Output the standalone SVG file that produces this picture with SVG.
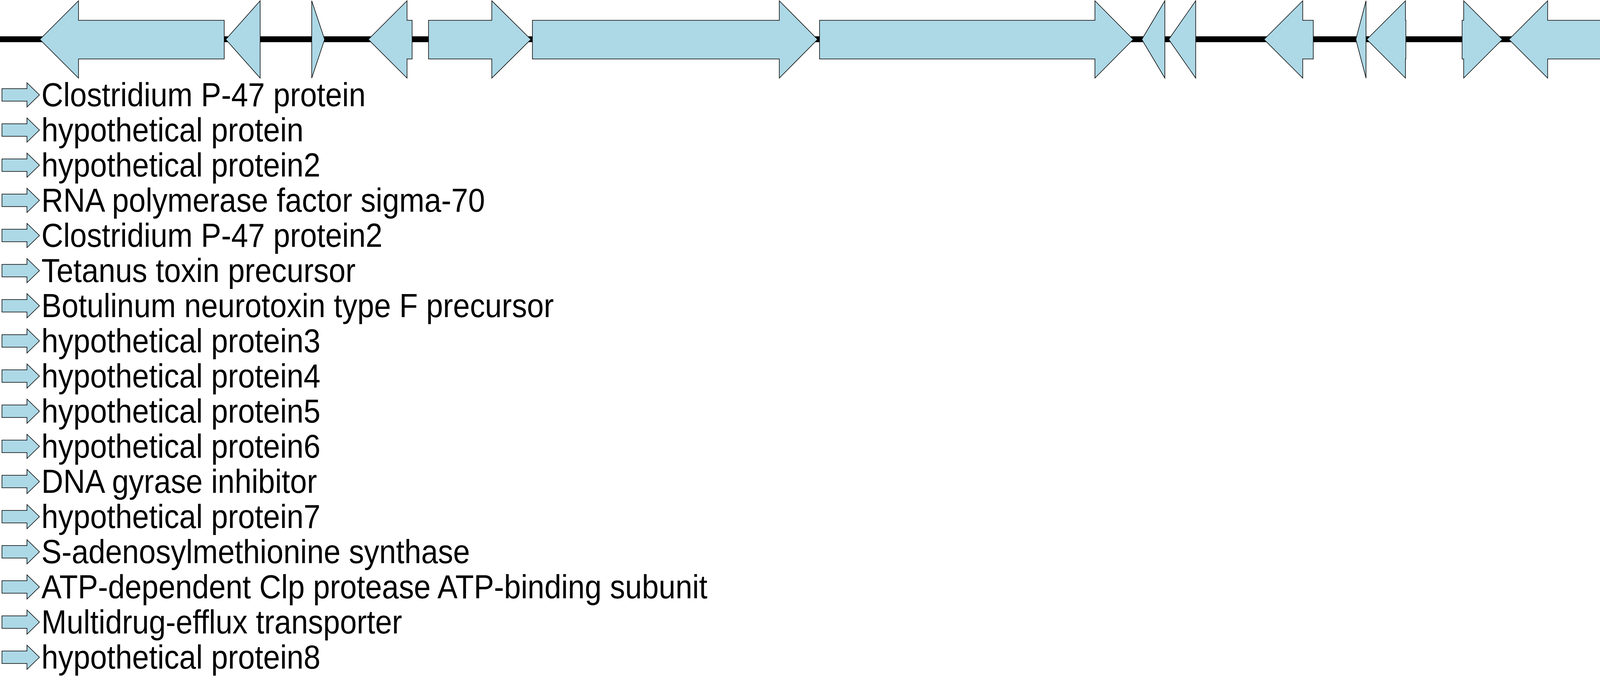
<svg xmlns="http://www.w3.org/2000/svg" xmlns:xlink="http://www.w3.org/1999/xlink" width="5000" height="1731" viewBox="0 0 5000 1731">
<style>
.gene{fill:#ADD8E6;stroke:#000;stroke-width:1.5;stroke-linejoin:miter}
.track{fill:#000}
.lab{font-family:"Liberation Sans",Arial,sans-serif;font-size:86px;fill:#000}
</style>
<defs>
<polygon id="legArrow" class="gene" points="5,-16 69,-16 69,-31 101,0 69,31 69,16 5,16"/>
</defs>
<rect width="5000" height="1731" fill="#fff"/>
<g id="connectors">
<rect class="track" x="0" y="93" width="5000" height="15"/>
</g>
<g id="genes">
<g id="gene1"><polygon class="gene" points="102,101 201,2 201,52 574,52 574,151 201,151 201,200"/></g>
<g id="gene2"><polygon class="gene" points="578,101 666,2 666,200"/></g>
<g id="gene3"><polygon class="gene" points="798,2 831,101 798,200"/></g>
<g id="gene4"><polygon class="gene" points="943,101 1042,2 1042,52 1055,52 1055,151 1042,151 1042,200"/></g>
<g id="gene5"><polygon class="gene" points="1097,52 1259,52 1259,2 1359,101 1259,200 1259,151 1097,151"/></g>
<g id="gene6"><polygon class="gene" points="1363,52 1995,52 1995,2 2093,101 1995,200 1995,151 1363,151"/></g>
<g id="gene7"><polygon class="gene" points="2098,52 2803,52 2803,2 2901,101 2803,200 2803,151 2098,151"/></g>
<g id="gene8"><polygon class="gene" points="2923,101 2982,2 2982,200"/></g>
<g id="gene9"><polygon class="gene" points="2992,101 3061,2 3061,200"/></g>
<g id="gene10"><polygon class="gene" points="3236,101 3335,2 3335,52 3362,52 3362,151 3335,151 3335,200"/></g>
<g id="gene11"><polygon class="gene" points="3471,101 3497,2 3497,200"/></g>
<g id="gene12"><polygon class="gene" points="3499,101 3598,2 3598,52 3599,52 3599,151 3598,151 3598,200"/></g>
<g id="gene13"><polygon class="gene" points="3743,52 3747,52 3747,2 3846,101 3747,200 3747,151 3743,151"/></g>
<g id="gene14"><polygon class="gene" points="3863,101 3962,2 3962,52 4104,52 4104,151 3962,151 3962,200"/></g>
<g id="gene15"><polygon class="gene" points="4105,101 4203,2 4203,52 4572,52 4572,151 4203,151 4203,200"/></g>
<g id="gene16"><polygon class="gene" points="4574,101 4672,2 4672,52 4863,52 4863,151 4672,151 4672,200"/></g>
<g id="gene17"><polygon class="gene" points="4871,101 4970,2 4970,52 4994,52 4994,151 4970,151 4970,200"/></g>
</g>
<g id="legend">
<use xlink:href="#legArrow" href="#legArrow" y="243"/>
<use xlink:href="#legArrow" href="#legArrow" y="333"/>
<use xlink:href="#legArrow" href="#legArrow" y="423"/>
<use xlink:href="#legArrow" href="#legArrow" y="513"/>
<use xlink:href="#legArrow" href="#legArrow" y="603"/>
<use xlink:href="#legArrow" href="#legArrow" y="693"/>
<use xlink:href="#legArrow" href="#legArrow" y="783"/>
<use xlink:href="#legArrow" href="#legArrow" y="873"/>
<use xlink:href="#legArrow" href="#legArrow" y="963"/>
<use xlink:href="#legArrow" href="#legArrow" y="1053"/>
<use xlink:href="#legArrow" href="#legArrow" y="1143"/>
<use xlink:href="#legArrow" href="#legArrow" y="1233"/>
<use xlink:href="#legArrow" href="#legArrow" y="1323"/>
<use xlink:href="#legArrow" href="#legArrow" y="1413"/>
<use xlink:href="#legArrow" href="#legArrow" y="1503"/>
<use xlink:href="#legArrow" href="#legArrow" y="1593"/>
<use xlink:href="#legArrow" href="#legArrow" y="1683"/>
<g transform="scale(0.9,1)">
<text class="lab" x="117.8" y="272">Clostridium P-47 protein</text>
<text class="lab" x="117.8" y="362">hypothetical protein</text>
<text class="lab" x="117.8" y="452">hypothetical protein2</text>
<text class="lab" x="117.8" y="542">RNA polymerase factor sigma-70</text>
<text class="lab" x="117.8" y="632">Clostridium P-47 protein2</text>
<text class="lab" x="117.8" y="722">Tetanus toxin precursor</text>
<text class="lab" x="117.8" y="812">Botulinum neurotoxin type F precursor</text>
<text class="lab" x="117.8" y="902">hypothetical protein3</text>
<text class="lab" x="117.8" y="992">hypothetical protein4</text>
<text class="lab" x="117.8" y="1082">hypothetical protein5</text>
<text class="lab" x="117.8" y="1172">hypothetical protein6</text>
<text class="lab" x="117.8" y="1262">DNA gyrase inhibitor</text>
<text class="lab" x="117.8" y="1352">hypothetical protein7</text>
<text class="lab" x="117.8" y="1442">S-adenosylmethionine synthase</text>
<text class="lab" x="117.8" y="1532">ATP-dependent Clp protease ATP-binding subunit</text>
<text class="lab" x="117.8" y="1622">Multidrug-efflux transporter</text>
<text class="lab" x="117.8" y="1712">hypothetical protein8</text>
</g>
</g>
</svg>
